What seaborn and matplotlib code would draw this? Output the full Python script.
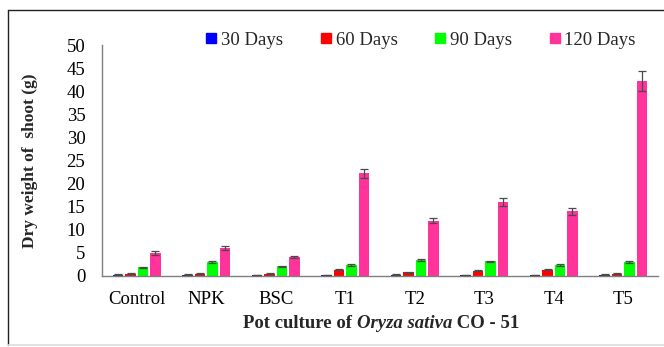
import matplotlib
matplotlib.use("Agg")
import matplotlib.pyplot as plt
import matplotlib.lines as mlines
import seaborn as sns
import pandas as pd

# Shoot dry weight (g) of Oryza sativa CO-51 in pot culture
treatments = ["Control", "NPK", "BSC", "T1", "T2", "T3", "T4", "T5"]
stages = ["30 Days", "60 Days", "90 Days", "120 Days"]

days30 = [0.3, 0.3, 0.2, 0.2, 0.3, 0.2, 0.2, 0.3]
days60 = [0.5, 0.5, 0.5, 1.4, 0.8, 1.1, 1.4, 0.5]
days90 = [1.9, 3.0, 2.1, 2.4, 3.5, 3.2, 2.4, 3.0]
days120 = [5.0, 6.0, 4.1, 22.2, 12.0, 16.0, 14.0, 42.2]

err30 = [0.05, 0.05, 0.05, 0.05, 0.05, 0.05, 0.05, 0.05]
err60 = [0.1, 0.1, 0.1, 0.1, 0.1, 0.1, 0.1, 0.1]
err90 = [0.15, 0.15, 0.15, 0.15, 0.15, 0.15, 0.15, 0.15]
err120 = [0.4, 0.4, 0.25, 1.0, 0.6, 0.9, 0.8, 2.1]

colors = ["#0000FF", "#FF0000", "#00FF00", "#FF3399"]

values = [days30, days60, days90, days120]
errors = [err30, err60, err90, err120]

rows = []
for stage, vals in zip(stages, values):
    for t, v in zip(treatments, vals):
        rows.append({"Treatment": t, "Stage": stage, "Weight": v})
df = pd.DataFrame(rows)

sns.set_style("white")
plt.rcParams["font.family"] = ["Liberation Serif", "DejaVu Serif"]

fig = plt.figure(figsize=(6.64, 3.47), dpi=100)
ax = fig.add_axes([102 / 664, 1 - 276 / 347, 556 / 664, 231 / 347])

sns.barplot(data=df, x="Treatment", y="Weight", hue="Stage",
            order=treatments, hue_order=stages, palette=colors,
            width=0.714, gap=0.15, errorbar=None, saturation=1,
            linewidth=0, legend=False, ax=ax)

# error bars on top of each bar
for container, errs in zip(ax.containers, errors):
    for bar, e in zip(container, errs):
        xc = bar.get_x() + bar.get_width() / 2
        ax.errorbar(xc, bar.get_height(), yerr=e, fmt="none",
                    ecolor="#4a4a4a", elinewidth=0.9, capsize=3,
                    capthick=0.9, zorder=5)

ax.set_xlim(-0.5, 7.5)
ax.set_ylim(0, 50)
ax.set_yticks(range(0, 51, 5))
ax.tick_params(axis="both", length=0, labelsize=13.5, colors="black")
ax.tick_params(axis="y", pad=12)
ax.tick_params(axis="x", pad=11)
for side in ["top", "right"]:
    ax.spines[side].set_visible(False)
for side in ["left", "bottom"]:
    ax.spines[side].set_color("#7f7f7f")
    ax.spines[side].set_linewidth(1.0)

ax.set_xlabel("")
ax.set_ylabel("Dry weight of  shoot (g)", fontsize=12.5, fontweight="bold")
ax.yaxis.set_label_coords((38 - 102) / 556, 0.5)

# legend across the top
handles = [mlines.Line2D([], [], marker="s", linestyle="none",
                         markersize=7.5, markerfacecolor=c,
                         markeredgecolor=c) for c in colors]
fig.legend(handles, stages, loc="center", ncol=4, frameon=False,
           bbox_to_anchor=(421 / 664, 1 - 40 / 347), fontsize=13.5,
           handlelength=0.55, handletextpad=0.25, columnspacing=2.0,
           borderaxespad=0, borderpad=0)

# x-axis title with the species name in italics
parts = [("Pot culture of ", "normal"), ("Oryza sativa", "italic"),
         (" CO - 51", "normal")]
renderer = fig.canvas.get_renderer()
texts = []
for s, style in parts:
    t = fig.text(0, 1 - 324 / 347, s, fontsize=13.5, fontweight="bold",
                 fontstyle=style, va="center", ha="left")
    texts.append(t)
widths = [t.get_window_extent(renderer).width for t in texts]
x0 = 381 - sum(widths) / 2
for t, w in zip(texts, widths):
    t.set_x(x0 / 664)
    x0 += w

# frame around the figure
fig.add_artist(mlines.Line2D([8 / 664, 8 / 664], [1 - 9.5 / 347, 1 - 345 / 347],
                             color="#222222", linewidth=1.0,
                             transform=fig.transFigure))
fig.add_artist(mlines.Line2D([8 / 664, 1.0], [1 - 9.5 / 347, 1 - 9.5 / 347],
                             color="#222222", linewidth=1.0,
                             transform=fig.transFigure))
fig.add_artist(mlines.Line2D([8 / 664, 1.0], [1 - 345 / 347, 1 - 345 / 347],
                             color="#dddddd", linewidth=1.2,
                             transform=fig.transFigure))

fig.savefig("out.png", dpi=100)
